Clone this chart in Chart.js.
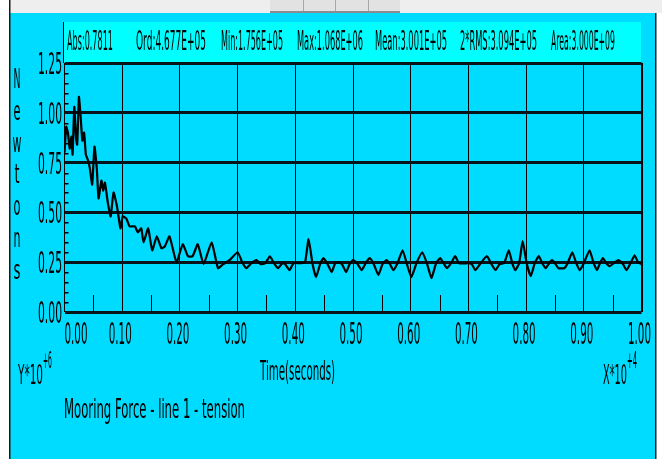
<!DOCTYPE html>
<html lang="en">
<head>
  <meta charset="UTF-8">
  <title>Mooring Force - line 1 - tension</title>
  <script src="https://cdn.jsdelivr.net/npm/chart.js@4.4.1/dist/chart.umd.min.js"></script>
  <style>
    body { margin: 0; background: #fff; }
  </style>
</head>
<body>
  <canvas id="chart" width="662" height="459"></canvas>
  <script>
    // time in units of 10^4 s, force in units of 10^6 N
    const times = [
      0.000, 0.003, 0.006, 0.009, 0.012, 0.014, 0.017, 0.020, 0.022, 0.025,
      0.028, 0.031, 0.034, 0.037, 0.041, 0.044, 0.048, 0.052, 0.056, 0.059,
      0.064, 0.067, 0.070, 0.075, 0.080, 0.085, 0.091, 0.097, 0.101, 0.107,
      0.113, 0.122, 0.127, 0.133, 0.137, 0.145, 0.152, 0.160, 0.168, 0.174,
      0.182, 0.194, 0.205, 0.214, 0.222, 0.231, 0.241, 0.255, 0.266, 0.275,
      0.286, 0.300, 0.308, 0.315, 0.324, 0.333, 0.340, 0.348, 0.356, 0.362,
      0.370, 0.376, 0.381, 0.390, 0.397, 0.410, 0.417, 0.423, 0.430, 0.436,
      0.443, 0.449, 0.456, 0.463, 0.469, 0.474, 0.481, 0.488, 0.494, 0.500,
      0.507, 0.515, 0.522, 0.529, 0.536, 0.544, 0.551, 0.558, 0.564, 0.570,
      0.577, 0.586, 0.593, 0.601, 0.610, 0.620, 0.628, 0.636, 0.644, 0.651,
      0.657, 0.663, 0.670, 0.677, 0.684, 0.700, 0.706, 0.712, 0.720, 0.732,
      0.740, 0.747, 0.754, 0.762, 0.770, 0.776, 0.781, 0.788, 0.794, 0.801,
      0.808, 0.815, 0.822, 0.828, 0.834, 0.840, 0.845, 0.850, 0.856, 0.866,
      0.872, 0.880, 0.887, 0.893, 0.900, 0.910, 0.917, 0.923, 0.928, 0.933,
      0.939, 0.945, 0.952, 0.960, 0.967, 0.974, 0.981, 0.988, 0.994, 1.000
    ];
    const newtons = [
      0.80, 0.93, 0.90, 0.82, 0.88, 0.79, 1.03, 0.87, 0.84, 1.08,
      0.98, 0.86, 0.90, 0.79, 0.76, 0.72, 0.64, 0.83, 0.72, 0.57,
      0.66, 0.61, 0.65, 0.55, 0.48, 0.60, 0.53, 0.42, 0.48, 0.47,
      0.43, 0.43, 0.40, 0.42, 0.35, 0.42, 0.31, 0.38, 0.32, 0.33,
      0.38, 0.25, 0.34, 0.28, 0.28, 0.34, 0.24, 0.35, 0.22, 0.24,
      0.26, 0.30, 0.25, 0.22, 0.245, 0.26, 0.24, 0.245, 0.28, 0.25,
      0.22, 0.24, 0.245, 0.21, 0.245, 0.245, 0.25, 0.365, 0.24, 0.175,
      0.24, 0.27, 0.24, 0.20, 0.245, 0.25, 0.24, 0.20, 0.24, 0.26,
      0.245, 0.21, 0.245, 0.27, 0.24, 0.186, 0.24, 0.26, 0.24, 0.21,
      0.245, 0.31, 0.245, 0.175, 0.245, 0.30, 0.245, 0.17, 0.245, 0.27,
      0.245, 0.22, 0.245, 0.28, 0.245, 0.245, 0.24, 0.21, 0.24, 0.28,
      0.24, 0.21, 0.24, 0.245, 0.31, 0.245, 0.21, 0.245, 0.356, 0.245,
      0.18, 0.245, 0.28, 0.245, 0.22, 0.245, 0.26, 0.245, 0.22, 0.22,
      0.245, 0.30, 0.245, 0.21, 0.245, 0.31, 0.245, 0.21, 0.245, 0.27,
      0.245, 0.23, 0.245, 0.26, 0.245, 0.21, 0.245, 0.285, 0.25, 0.24
    ];
    const yTickLabels = ['0.00', '0.25', '0.50', '0.75', '1.00', '1.25'];
    const xTickLabels = ['0.00', '0.10', '0.20', '0.30', '0.40', '0.50', '0.60', '0.70', '0.80', '0.90', '1.00'];
    const headerStats = ['Abs:0.7811', 'Ord:4.677E+05', 'Min:1.756E+05', 'Max:1.068E+06',
      'Mean:3.001E+05', '2*RMS:3.094E+05', 'Area:3.000E+09'];
    const yTitle = 'Newtons';
    const xTitle = 'Time(seconds)';
    const caption = 'Mooring Force - line 1 - tension';

    // where each header entry sits: [left, width]
    const headerLayout = [[67, 46], [136, 70], [221, 62], [297, 66], [375, 72], [460, 77], [551, 64]];

    const CYAN = '#00dcff';
    const FONT = '"DejaVu Sans", sans-serif';

    // narrow text: squash horizontally to a given width
    function fitText(ctx, s, x, y, size, width, align) {
      ctx.save();
      ctx.font = size + 'px ' + FONT;
      ctx.textAlign = 'left';
      ctx.textBaseline = 'alphabetic';
      const sx = width / ctx.measureText(s).width;
      let left = x;
      if (align === 'center') left = x - width / 2;
      if (align === 'right') left = x - width;
      ctx.translate(left, y);
      ctx.scale(sx, 1);
      ctx.fillStyle = '#000';
      ctx.fillText(s, 0, 0);
      ctx.restore();
    }

    const frame = {
      id: 'frame',
      beforeDraw(chart) {
        const ctx = chart.ctx;
        ctx.save();
        ctx.fillStyle = '#fff';
        ctx.fillRect(0, 0, 662, 459);
        ctx.fillStyle = '#eeeeee';
        ctx.fillRect(10, 0, 652, 13);
        ctx.fillStyle = '#e2e2e2';
        ctx.fillRect(270, 0, 130, 12);
        ctx.fillStyle = '#a8a8a8';
        [303, 335, 368].forEach(x => ctx.fillRect(x, 0, 1, 12));
        ctx.fillStyle = '#8c8c8c';
        ctx.fillRect(270, 11, 130, 2);
        ctx.fillStyle = CYAN;
        ctx.fillRect(10, 13, 645, 446);
        ctx.fillStyle = '#1a1a1a';
        ctx.fillRect(9, 0, 1.5, 459);
        ctx.fillRect(655, 13, 1.5, 446);
        // header box
        ctx.fillStyle = '#00ffff';
        ctx.fillRect(63, 22, 578, 40);
        ctx.fillStyle = '#000';
        ctx.fillRect(63, 22, 1, 41);
        ctx.restore();
      },
      afterDraw(chart) {
        const ctx = chart.ctx;
        const xs = chart.scales.x, ys = chart.scales.y;
        const a = chart.chartArea;
        ctx.save();
        ctx.fillStyle = '#000';
        // minor ticks
        for (let v = 0.05; v < 1.25; v += 0.05) {
          if (Math.abs(v / 0.25 - Math.round(v / 0.25)) < 1e-6) continue;
          const py = Math.round(ys.getPixelForValue(v));
          ctx.fillRect(a.left, py, 4, 1.5);
        }
        for (let v = 0.05; v < 1; v += 0.1) {
          const px = Math.round(xs.getPixelForValue(v));
          ctx.fillRect(px, a.bottom - 17, 1, 17);
        }
        ctx.restore();

        headerStats.forEach((s, i) => fitText(ctx, s, headerLayout[i][0], 50, 27, headerLayout[i][1], 'left'));

        yTickLabels.forEach(l => {
          const py = ys.getPixelForValue(parseFloat(l));
          fitText(ctx, l, 62, py + 11, 30, 24, 'right');
        });
        xTickLabels.forEach((l, i) => {
          const px = xs.getPixelForValue(parseFloat(l));
          if (i === 0) fitText(ctx, l, px, 344, 30, 23, 'left');
          else fitText(ctx, l, px - 2, 344, 30, 23, 'center');
        });

        // vertical y title, one letter per row
        yTitle.split('').forEach((c, i) => {
          const w = c === 'w' ? 9 : (c === 't' ? 5 : 7);
          fitText(ctx, c, 17, 88 + i * 31.8, 26, w, 'center');
        });

        fitText(ctx, xTitle, 260, 380, 27, 75, 'left');
        fitText(ctx, 'X*10', 603, 384, 27, 24, 'left');
        fitText(ctx, '+4', 627, 368, 23, 10, 'left');
        fitText(ctx, 'Y*10', 18, 384, 27, 25, 'left');
        fitText(ctx, '+6', 43, 368, 23, 9, 'left');
        fitText(ctx, caption, 64, 418, 27, 181, 'left');
      }
    };

    const ctx = document.getElementById('chart').getContext('2d');
    const myChart = new Chart(ctx, {
      type: 'line',
      data: {
        datasets: [{
          label: caption,
          data: times.map((t, i) => ({ x: t, y: newtons[i] })),
          borderColor: '#000',
          borderWidth: 2.2,
          pointRadius: 0,
          tension: 0.15,
          fill: false
        }]
      },
      options: {
        responsive: false,
        animation: false,
        devicePixelRatio: 1,
        layout: { padding: { left: 64.5, right: 20.5, top: 63, bottom: 147 } },
        plugins: { legend: { display: false }, tooltip: { enabled: false } },
        scales: {
          x: {
            type: 'linear', min: 0, max: 1,
            ticks: { display: false, stepSize: 0.1 },
            border: { display: false },
            grid: {
              drawTicks: false,
              color: '#000',
              lineWidth: c => (c.index === 10 ? 2 : 1)
            }
          },
          y: {
            min: 0, max: 1.25,
            ticks: { display: false, stepSize: 0.25 },
            border: { display: false },
            grid: {
              drawTicks: false,
              color: '#08141a',
              lineWidth: 3
            }
          }
        }
      },
      plugins: [frame]
    });
  </script>
</body>
</html>
